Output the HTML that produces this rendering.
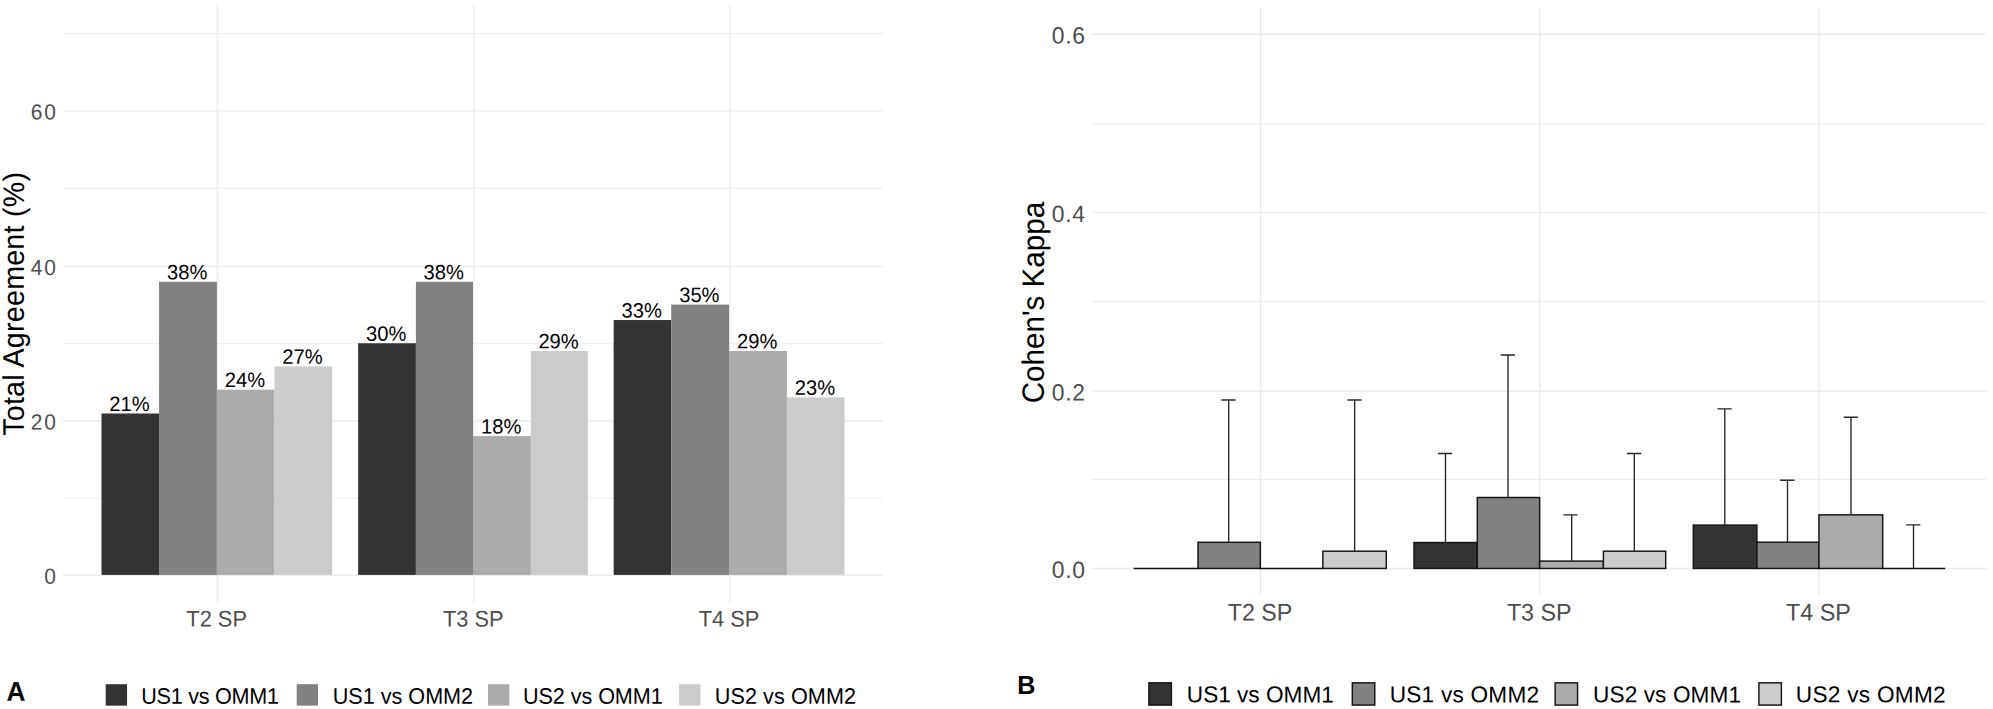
<!DOCTYPE html>
<html lang="en">
<head>
<meta charset="utf-8">
<title>Figure</title>
<style>
html,body{margin:0;padding:0;background:#fff;}
body{width:1993px;height:709px;overflow:hidden;}
svg{display:block;}
svg text{white-space:pre;}
</style>
</head>
<body>
<svg width="1993" height="709" viewBox="0 0 1993 709" font-family='"Liberation Sans", Arial, Helvetica, sans-serif' text-rendering="geometricPrecision">
<rect width="1993" height="709" fill="#fff"/>
<g id="panelA">
<line x1="63.1" x2="882.9" y1="498.20" y2="498.20" stroke="#EBEBEB" stroke-width="0.95"/>
<line x1="63.1" x2="882.9" y1="343.60" y2="343.60" stroke="#EBEBEB" stroke-width="0.95"/>
<line x1="63.1" x2="882.9" y1="188.30" y2="188.30" stroke="#EBEBEB" stroke-width="0.95"/>
<line x1="63.1" x2="882.9" y1="33.50" y2="33.50" stroke="#EBEBEB" stroke-width="0.95"/>
<line x1="63.1" x2="882.9" y1="575.30" y2="575.30" stroke="#EBEBEB" stroke-width="1.4"/>
<line x1="63.1" x2="882.9" y1="421.00" y2="421.00" stroke="#EBEBEB" stroke-width="1.4"/>
<line x1="63.1" x2="882.9" y1="266.40" y2="266.40" stroke="#EBEBEB" stroke-width="1.4"/>
<line x1="63.1" x2="882.9" y1="110.90" y2="110.90" stroke="#EBEBEB" stroke-width="1.4"/>
<line x1="217.40" x2="217.40" y1="6.0" y2="603.0" stroke="#EBEBEB" stroke-width="1.4"/>
<line x1="473.90" x2="473.90" y1="6.0" y2="603.0" stroke="#EBEBEB" stroke-width="1.4"/>
<line x1="729.90" x2="729.90" y1="6.0" y2="603.0" stroke="#EBEBEB" stroke-width="1.4"/>
<rect x="101.50" y="413.50" width="57.56" height="161.40" fill="#333333"/>
<rect x="159.06" y="281.80" width="57.84" height="293.10" fill="#818181"/>
<rect x="216.90" y="389.66" width="57.55" height="185.24" fill="#ABABAB"/>
<rect x="274.45" y="366.45" width="57.70" height="208.45" fill="#CCCCCC"/>
<rect x="358.15" y="343.25" width="57.75" height="231.65" fill="#333333"/>
<rect x="415.90" y="281.80" width="57.10" height="293.10" fill="#818181"/>
<rect x="473.00" y="436.07" width="57.86" height="138.83" fill="#ABABAB"/>
<rect x="530.86" y="350.98" width="56.99" height="223.92" fill="#CCCCCC"/>
<rect x="613.68" y="320.04" width="57.56" height="254.86" fill="#333333"/>
<rect x="671.24" y="304.57" width="57.83" height="270.33" fill="#818181"/>
<rect x="729.07" y="350.98" width="57.83" height="223.92" fill="#ABABAB"/>
<rect x="786.90" y="397.39" width="57.56" height="177.50" fill="#CCCCCC"/>
<text transform="translate(129.48,410.90) rotate(0.05) scale(1,1.03)" font-size="20.15" text-anchor="middle" fill="#000">21%</text>
<text transform="translate(187.18,279.20) rotate(0.05) scale(1,1.03)" font-size="20.15" text-anchor="middle" fill="#000">38%</text>
<text transform="translate(244.88,387.06) rotate(0.05) scale(1,1.03)" font-size="20.15" text-anchor="middle" fill="#000">24%</text>
<text transform="translate(302.50,363.85) rotate(0.05) scale(1,1.03)" font-size="20.15" text-anchor="middle" fill="#000">27%</text>
<text transform="translate(386.22,340.65) rotate(0.05) scale(1,1.03)" font-size="20.15" text-anchor="middle" fill="#000">30%</text>
<text transform="translate(443.65,279.20) rotate(0.05) scale(1,1.03)" font-size="20.15" text-anchor="middle" fill="#000">38%</text>
<text transform="translate(501.13,433.47) rotate(0.05) scale(1,1.03)" font-size="20.15" text-anchor="middle" fill="#000">18%</text>
<text transform="translate(558.56,348.38) rotate(0.05) scale(1,1.03)" font-size="20.15" text-anchor="middle" fill="#000">29%</text>
<text transform="translate(641.66,317.44) rotate(0.05) scale(1,1.03)" font-size="20.15" text-anchor="middle" fill="#000">33%</text>
<text transform="translate(699.36,301.97) rotate(0.05) scale(1,1.03)" font-size="20.15" text-anchor="middle" fill="#000">35%</text>
<text transform="translate(757.19,348.38) rotate(0.05) scale(1,1.03)" font-size="20.15" text-anchor="middle" fill="#000">29%</text>
<text transform="translate(814.88,394.79) rotate(0.05) scale(1,1.03)" font-size="20.15" text-anchor="middle" fill="#000">23%</text>
<text transform="translate(57.90,583.80) rotate(0.05) scale(1,1.041)" font-size="20.95" text-anchor="end" letter-spacing="1.9" fill="#4D4D4D">0</text>
<text transform="translate(57.90,429.50) rotate(0.05) scale(1,1.041)" font-size="20.95" text-anchor="end" letter-spacing="1.9" fill="#4D4D4D">20</text>
<text transform="translate(57.90,274.90) rotate(0.05) scale(1,1.041)" font-size="20.95" text-anchor="end" letter-spacing="1.9" fill="#4D4D4D">40</text>
<text transform="translate(57.90,119.40) rotate(0.05) scale(1,1.041)" font-size="20.95" text-anchor="end" letter-spacing="1.9" fill="#4D4D4D">60</text>
<text transform="translate(216.65,626.60) rotate(0.05) scale(1,1.036)" font-size="21.8" text-anchor="middle" fill="#4D4D4D">T2 SP</text>
<text transform="translate(473.30,626.60) rotate(0.05) scale(1,1.036)" font-size="21.8" text-anchor="middle" fill="#4D4D4D">T3 SP</text>
<text transform="translate(729.00,626.60) rotate(0.05) scale(1,1.036)" font-size="21.8" text-anchor="middle" fill="#4D4D4D">T4 SP</text>
<text transform="translate(23.80,303.80) rotate(-89.95) scale(1,1.041)" font-size="28.6" text-anchor="middle" letter-spacing="0.26" fill="#000">Total Agreement (%)</text>
<rect x="105.70" y="684.2" width="21.35" height="21.45" fill="#333333"/>
<text transform="translate(141.25,703.75) rotate(0.05) scale(1,1.039)" font-size="21.6" letter-spacing="-0.26" fill="#000">US1 vs OMM1</text>
<rect x="296.70" y="684.2" width="21.35" height="21.45" fill="#818181"/>
<text transform="translate(332.65,703.75) rotate(0.05) scale(1,1.039)" font-size="21.6" letter-spacing="0.01" fill="#000">US1 vs OMM2</text>
<rect x="488.00" y="684.2" width="21.35" height="21.45" fill="#ABABAB"/>
<text transform="translate(522.95,703.75) rotate(0.05) scale(1,1.039)" font-size="21.6" letter-spacing="-0.06" fill="#000">US2 vs OMM1</text>
<rect x="679.10" y="684.2" width="21.35" height="21.45" fill="#CCCCCC"/>
<text transform="translate(714.75,703.75) rotate(0.05) scale(1,1.039)" font-size="21.6" letter-spacing="0.09" fill="#000">US2 vs OMM2</text>
<text transform="translate(6.50,700.67) rotate(0.05) scale(1,1.032)" font-size="26.3" font-weight="bold" fill="#000">A</text>
</g>
<g id="panelB">
<line x1="1092.4" x2="1986.2" y1="479.50" y2="479.50" stroke="#EBEBEB" stroke-width="1.15"/>
<line x1="1092.4" x2="1986.2" y1="301.50" y2="301.50" stroke="#EBEBEB" stroke-width="1.15"/>
<line x1="1092.4" x2="1986.2" y1="124.00" y2="124.00" stroke="#EBEBEB" stroke-width="1.15"/>
<line x1="1092.4" x2="1986.2" y1="568.55" y2="568.55" stroke="#EBEBEB" stroke-width="1.45"/>
<line x1="1092.4" x2="1986.2" y1="391.20" y2="391.20" stroke="#EBEBEB" stroke-width="1.45"/>
<line x1="1092.4" x2="1986.2" y1="212.60" y2="212.60" stroke="#EBEBEB" stroke-width="1.45"/>
<line x1="1092.4" x2="1986.2" y1="34.20" y2="34.20" stroke="#EBEBEB" stroke-width="1.45"/>
<line x1="1260.50" x2="1260.50" y1="7.6" y2="595.0" stroke="#EBEBEB" stroke-width="1.45"/>
<line x1="1539.70" x2="1539.70" y1="7.6" y2="595.0" stroke="#EBEBEB" stroke-width="1.45"/>
<line x1="1818.90" x2="1818.90" y1="7.6" y2="595.0" stroke="#EBEBEB" stroke-width="1.45"/>
<line x1="1133.58" x2="1198.72" y1="568.45" y2="568.45" stroke="#141414" stroke-width="1.45"/>
<rect x="1198.00" y="542.30" width="62.35" height="26.15" fill="#818181" stroke="#141414" stroke-width="1.45"/>
<line x1="1259.62" x2="1323.57" y1="568.45" y2="568.45" stroke="#141414" stroke-width="1.45"/>
<rect x="1322.85" y="551.20" width="63.45" height="17.25" fill="#CCCCCC" stroke="#141414" stroke-width="1.45"/>
<rect x="1414.00" y="542.50" width="63.30" height="25.95" fill="#333333" stroke="#141414" stroke-width="1.45"/>
<rect x="1477.30" y="497.50" width="62.35" height="70.95" fill="#818181" stroke="#141414" stroke-width="1.45"/>
<rect x="1539.65" y="561.10" width="63.75" height="7.35" fill="#ABABAB" stroke="#141414" stroke-width="1.45"/>
<rect x="1603.40" y="551.20" width="62.30" height="17.25" fill="#CCCCCC" stroke="#141414" stroke-width="1.45"/>
<rect x="1693.30" y="525.10" width="63.60" height="43.35" fill="#333333" stroke="#141414" stroke-width="1.45"/>
<rect x="1756.90" y="542.20" width="62.05" height="26.25" fill="#818181" stroke="#141414" stroke-width="1.45"/>
<rect x="1818.95" y="514.85" width="63.75" height="53.60" fill="#ABABAB" stroke="#141414" stroke-width="1.45"/>
<line x1="1881.98" x2="1945.22" y1="568.45" y2="568.45" stroke="#141414" stroke-width="1.45"/>
<path d="M1221.40 400.00H1235.60M1228.70 400.00V542.30" fill="none" stroke="#262626" stroke-width="1.35"/>
<path d="M1347.35 400.00H1361.55M1354.65 400.00V551.20" fill="none" stroke="#262626" stroke-width="1.35"/>
<path d="M1437.90 453.50H1452.10M1445.50 453.50V542.50" fill="none" stroke="#262626" stroke-width="1.35"/>
<path d="M1500.70 354.95H1514.90M1508.00 354.95V497.50" fill="none" stroke="#262626" stroke-width="1.35"/>
<path d="M1563.40 514.85H1577.60M1571.70 514.85V561.10" fill="none" stroke="#262626" stroke-width="1.35"/>
<path d="M1627.00 453.50H1641.20M1634.30 453.50V551.20" fill="none" stroke="#262626" stroke-width="1.35"/>
<path d="M1717.50 408.80H1731.70M1724.80 408.80V525.10" fill="none" stroke="#262626" stroke-width="1.35"/>
<path d="M1780.20 480.20H1794.40M1787.50 480.20V542.20" fill="none" stroke="#262626" stroke-width="1.35"/>
<path d="M1843.70 417.20H1857.90M1851.00 417.20V514.85" fill="none" stroke="#262626" stroke-width="1.35"/>
<path d="M1906.20 524.90H1920.40M1913.50 524.90V568.45" fill="none" stroke="#262626" stroke-width="1.35"/>
<text transform="translate(1085.75,577.90) rotate(0.05) scale(1,1.03)" font-size="22.9" text-anchor="end" letter-spacing="0.7" fill="#4D4D4D">0.0</text>
<text transform="translate(1085.75,400.55) rotate(0.05) scale(1,1.03)" font-size="22.9" text-anchor="end" letter-spacing="0.7" fill="#4D4D4D">0.2</text>
<text transform="translate(1085.75,221.95) rotate(0.05) scale(1,1.03)" font-size="22.9" text-anchor="end" letter-spacing="0.7" fill="#4D4D4D">0.4</text>
<text transform="translate(1085.75,43.55) rotate(0.05) scale(1,1.03)" font-size="22.9" text-anchor="end" letter-spacing="0.7" fill="#4D4D4D">0.6</text>
<text transform="translate(1260.00,620.60) rotate(0.05) scale(1,1.029)" font-size="23.26" text-anchor="middle" fill="#4D4D4D">T2 SP</text>
<text transform="translate(1539.20,620.60) rotate(0.05) scale(1,1.029)" font-size="23.26" text-anchor="middle" fill="#4D4D4D">T3 SP</text>
<text transform="translate(1818.40,620.60) rotate(0.05) scale(1,1.029)" font-size="23.26" text-anchor="middle" fill="#4D4D4D">T4 SP</text>
<text transform="translate(1043.85,302.55) rotate(-89.95) scale(1,1.041)" font-size="29.62" text-anchor="middle" fill="#000">Cohen&#39;s Kappa</text>
<rect x="1148.92" y="682.83" width="22.45" height="22.25" fill="#333333" stroke="#141414" stroke-width="1.45"/>
<text transform="translate(1186.80,702.30) rotate(0.05) scale(1,1.015)" font-size="22.62" fill="#000">US1 vs OMM1</text>
<rect x="1352.32" y="682.83" width="22.45" height="22.25" fill="#818181" stroke="#141414" stroke-width="1.45"/>
<text transform="translate(1389.70,702.30) rotate(0.05) scale(1,1.015)" font-size="22.62" letter-spacing="0.24" fill="#000">US1 vs OMM2</text>
<rect x="1555.12" y="682.83" width="22.45" height="22.25" fill="#ABABAB" stroke="#141414" stroke-width="1.45"/>
<text transform="translate(1593.10,702.30) rotate(0.05) scale(1,1.015)" font-size="22.62" letter-spacing="0.09" fill="#000">US2 vs OMM1</text>
<rect x="1758.92" y="682.83" width="22.45" height="22.25" fill="#CCCCCC" stroke="#141414" stroke-width="1.45"/>
<text transform="translate(1795.80,702.30) rotate(0.05) scale(1,1.015)" font-size="22.62" letter-spacing="0.28" fill="#000">US2 vs OMM2</text>
<text transform="translate(1017.13,694.00) rotate(0.05) scale(1,1.045)" font-size="25.1" font-weight="bold" fill="#000">B</text>
</g>
</svg>
</body>
</html>
